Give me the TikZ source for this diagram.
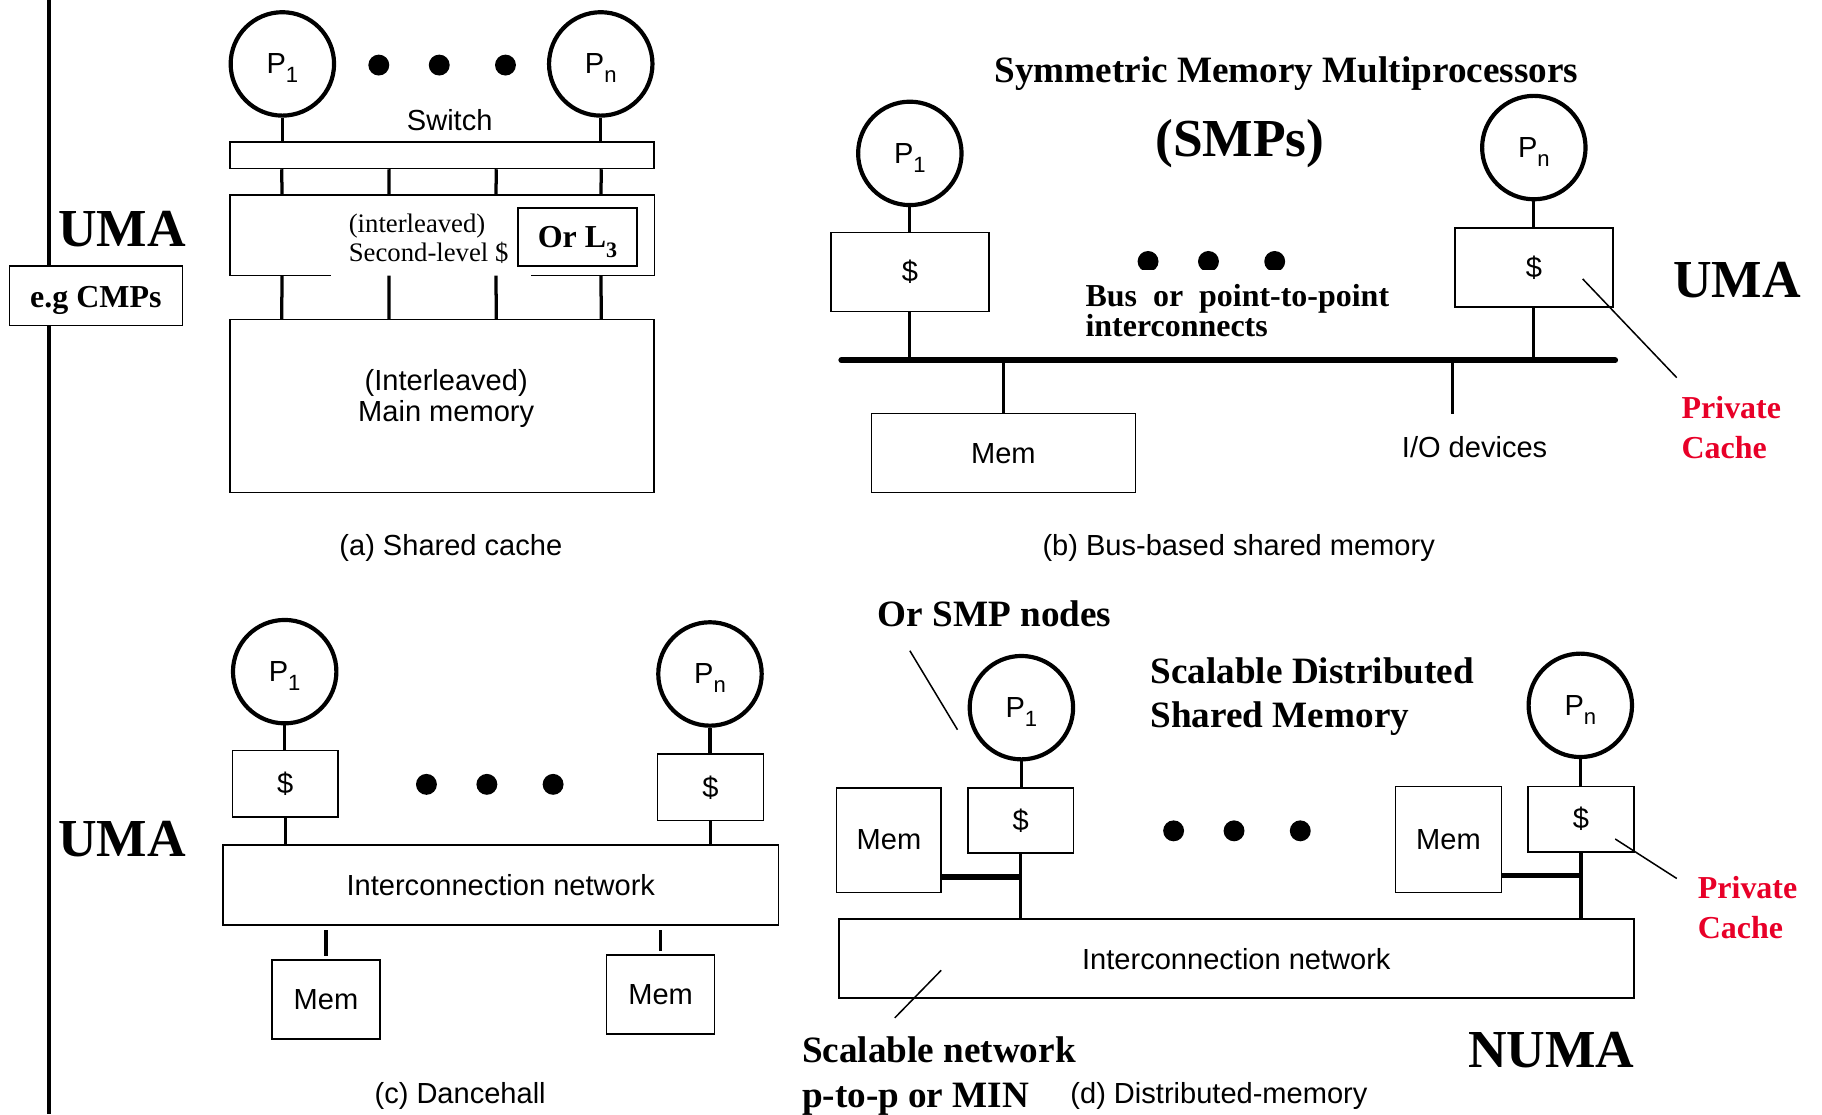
\documentclass[tikz,border=0pt]{standalone}
\usepackage{fontspec}
\setmainfont{Liberation Serif}
\newfontfamily\labfont{Liberation Sans}
\usetikzlibrary{calc}
\definecolor{capred}{RGB}{232,0,40}
\newcommand\pname[1]{P\smash{\raisebox{-0.3em}{\fontsize{19}{19}\selectfont #1}}}

\tikzset{
  proc/.style={circle, draw, line width=3.6pt, minimum size=89pt, inner sep=0pt, font=\labfont\fontsize{25}{25}\selectfont},
  blk/.style={draw, line width=1.3pt, inner sep=0pt, font=\labfont\fontsize{25}{25}\selectfont},
  wire/.style={line width=2.8pt},
  busline/.style={line width=5pt, line cap=round},
  lead/.style={line width=1.3pt},
  lbl/.style={font=\labfont\fontsize{25}{25}\selectfont, inner sep=0pt},
  hd/.style={font=\bfseries\fontsize{#1}{#1}\selectfont, inner sep=0pt},
  hdpair/.style={align=left, inner sep=0pt, anchor=west},
}

\begin{document}
\begin{tikzpicture}[x=1pt,y=-1pt]
\useasboundingbox (0,0) rectangle (1568,959);

% left rule:
\coordinate (rtop) at (42,0);
\coordinate (rbot) at (42,959);
\draw[line width=3.5pt] (rtop) -- (rbot);
\node[hd=46] (umaa) at (105,197) {UMA};
\node[blk, fill=white, minimum width=149pt, minimum height=51pt, text height=21pt, text depth=0pt, font=\bfseries\fontsize{27.5}{27.5}\selectfont] (cmp) at (82.5,254.5) {e.g CMPs};
\node[hd=46] (umac) at (105,722) {UMA};


% (a) shared cache:
\node[proc] (pa1) at (243,55) {\pname{1}};
\node[proc] (pan) at (517,55) {\pname{n}};
\foreach \x in {326,378,435} \fill (\x,56) circle (9pt);

\node[lbl] (swlbl) at (387,103) {Switch};
\node[blk, minimum width=365pt, minimum height=23pt] (sw) at (380.5,133.5) {};

\node[minimum width=365pt, minimum height=69pt, inner sep=0pt] (l2) at (380.5,202.5) {};
\draw[line width=1.3pt] ($(l2.south east)+(-106,0)$) -- (l2.south east) -- (l2.north east) -- (l2.north west) -- (l2.south west) -- ++(87,0);
\node[hdpair, font=\fontsize{23}{25}\selectfont] (l2txt) at (300,205.5) {(interleaved)\\Second-level \$};
\node[blk, minimum width=102pt, minimum height=50pt, font=\bfseries\fontsize{27.5}{27.5}\selectfont] (l3) at (497,204) {Or L\smash{\raisebox{-0.3em}{\fontsize{19}{19}\selectfont 3}}};

\node[blk, minimum width=365pt, minimum height=149pt] (mm) at (380.5,349.5) {};
\node[lbl, align=center, font=\labfont\fontsize{25}{26}\selectfont] (mmtxt) at (384,343) {(Interleaved)\\Main memory};
\node[lbl] (capa) at (388,472) {(a) Shared cache};

\draw[wire] (pa1.south) -- (pa1.south |- sw.north);
\draw[wire] (pan.south) -- (pan.south |- sw.north);
\foreach \t in {0.123,0.375,0.627,0.874} {
  \draw[wire] ($(sw.south west)!\t!(sw.south east)$) -- ($(l2.north west)!\t!(l2.north east)$);
  \draw[wire] ($(l2.south west)!\t!(l2.south east)$) -- ($(mm.north west)!\t!(mm.north east)$);
}


% (b) bus-based:
\node[hd=32] (smtitle) at (1107,63) {Symmetric Memory Multiprocessors};
\node[hd=46] (smps) at (1067,124) {(SMPs)};
\node[proc] (pb1) at (783,132) {\pname{1}};
\node[proc] (pbn) at (1320,127) {\pname{n}};
\node[blk, minimum width=136pt, minimum height=68pt] (cb1) at (783,234) {\$};
\node[blk, minimum width=136pt, minimum height=68pt] (cbn) at (1320,230) {\$};

\coordinate (busl) at (724,310);
\coordinate (busr) at (1390,310);
\draw[busline] (busl) -- (busr);
\draw[wire] (pb1.south) -- (cb1.north);
\draw[wire] (cb1.south) -- (cb1.south |- busl);
\draw[wire] (pbn.south) -- (cbn.north);
\draw[wire] (cbn.south) -- (cbn.south |- busl);

\node[blk, minimum width=227pt, minimum height=68pt] (memb) at (863.5,390) {Mem};
\draw[wire] (memb.north) -- (memb.north |- busl);
\coordinate (iob) at (1250,356);
\draw[wire] (iob |- busl) -- (iob);
\node[lbl] (io) at (1269,385) {I/O devices};

\begin{scope}
\clip (960,200) rectangle (1120,232);
\foreach \x in {988,1040,1097} \fill (\x,225) circle (9pt);
\end{scope}
\node[hdpair, font=\bfseries\fontsize{27.5}{26}\selectfont] (busi) at (934,267) {Bus~~or~~point-to-point\\interconnects};

\node[hd=46] (umab) at (1495,241) {UMA};
\coordinate (pb) at (1362,240);
\coordinate (pbe) at (1443,325);
\draw[lead] (pb) -- (pbe);
\node[hdpair, text=capred, font=\bfseries\fontsize{27.5}{34}\selectfont] (privb) at (1447,368) {Private\\Cache};
\node[lbl] (capb) at (1066,472) {(b) Bus-based shared memory};


% (c) dancehall:
\node[proc] (pc1) at (245,578) {\pname{1}};
\node[proc] (pcn) at (611,580) {\pname{n}};
\node[blk, minimum width=91pt, minimum height=57pt] (cc1) at (245.5,674.5) {\$};
\node[blk, minimum width=91pt, minimum height=57pt] (ccn) at (611.5,677.5) {\$};
\foreach \x in {367,419,476} \fill (\x,675) circle (9pt);
\node[blk, minimum width=478pt, minimum height=69pt] (netc) at (431,761.5) {Interconnection network};
\node[blk, minimum width=93pt, minimum height=68pt] (mc1) at (280.5,860) {Mem};
\node[blk, minimum width=93pt, minimum height=68pt] (mcn) at (568.5,856) {Mem};

\draw[wire] (pc1.south) -- (pc1.south |- cc1.north);
\draw[wire] (cc1.south) -- (cc1.south |- netc.north);
\draw[wire] (pcn.south) -- (pcn.south |- ccn.north);
\draw[wire] (ccn.south) -- (ccn.south |- netc.north);
\draw[wire, shorten <=4pt, shorten >=3pt] (mc1.north |- netc.south) -- (mc1.north);
\draw[wire, shorten <=4pt, shorten >=3pt] (mcn.north |- netc.south) -- (mcn.north);
\node[lbl] (capc) at (396,943) {(c) Dancehall};


% (d) distributed memory:
\node[hd=32] (smpn) at (856,528) {Or SMP nodes};
\coordinate (sa) at (783,560);
\coordinate (sb) at (824,628);
\draw[lead] (sa) -- (sb);
\node[proc] (pd1) at (879,609) {\pname{1}};
\node[proc] (pdn) at (1360,607) {\pname{n}};
\node[hdpair, font=\bfseries\fontsize{32}{38}\selectfont] (sdsm) at (990,599.5) {Scalable Distributed\\Shared Memory};

\node[blk, minimum width=91pt, minimum height=56pt] (cd1) at (878.5,706) {\$};
\node[blk, minimum width=91pt, minimum height=56pt] (cdn) at (1360.5,705) {\$};
\node[blk, minimum width=90pt, minimum height=90pt] (md1) at (765,723) {Mem};
\node[blk, minimum width=91pt, minimum height=91pt] (mdn) at (1246.5,722.5) {Mem};
\node[blk, minimum width=684pt, minimum height=68pt] (netd) at (1064,825) {Interconnection network};
\foreach \x in {1010,1062,1119} \fill (\x,715) circle (9pt);

\draw[wire] (pd1.south) -- (pd1.south |- cd1.north);
\draw[wire] (cd1.south) -- (cd1.south |- netd.north);
\draw[wire] (pdn.south) -- (pdn.south |- cdn.north);
\draw[wire] (cdn.south) -- (cdn.south |- netd.north);
\draw[line width=4.5pt] ($(md1.south east)+(0,-14)$) coordinate (s1) -- (s1 -| cd1.south);
\draw[line width=4.5pt] ($(mdn.south east)+(0,-15)$) coordinate (s2) -- (s2 -| cdn.south);

\coordinate (pd) at (1390,722);
\coordinate (pde) at (1443,756);
\draw[lead] (pd) -- (pde);
\node[hdpair, text=capred, font=\bfseries\fontsize{27.5}{34}\selectfont] (privd) at (1461,781) {Private\\Cache};

\coordinate (na) at (810,835);
\coordinate (nb) at (770,876);
\draw[lead] (na) -- (nb);
\node[hdpair, font=\bfseries\fontsize{32}{38}\selectfont] (scn) at (690,926) {Scalable network\\p-to-p or MIN};
\node[hd=46] (numa) at (1335,904) {NUMA};
\node[lbl] (capd) at (1049,943) {(d) Distributed-memory};

\end{tikzpicture}
\end{document}
